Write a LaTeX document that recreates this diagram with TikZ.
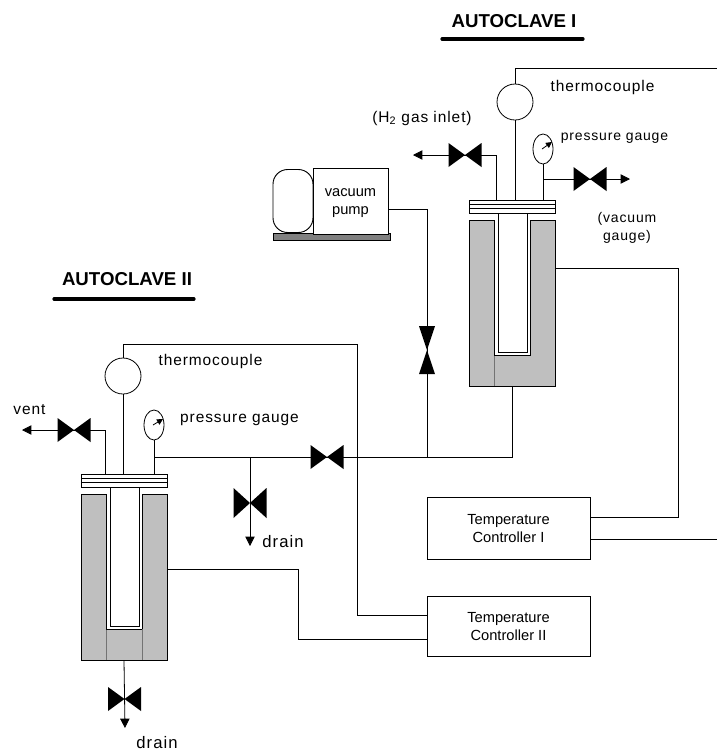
\documentclass[tikz,border=0pt]{standalone}
\usepackage{fontspec}
\setmainfont{Liberation Sans}
\newfontfamily\spaced[LetterSpace=6]{Liberation Sans}
\usetikzlibrary{shapes.geometric,arrows.meta,positioning}
\def\px{0.75pt}
\begin{document}
\begin{tikzpicture}[
      x=0.75pt, y=-0.75pt,
      pipe/.style={draw, line width=0.6pt},
      outlet/.style={pipe, -{Triangle[length=7pt,width=7pt]}},
      box/.style={draw, line width=0.7pt, fill=white, inner sep=0pt, align=center, font=\fontsize{11}{13.5}\selectfont, text height=22.5pt},
      lidbox/.style={draw, line width=0.6pt, fill=white, inner sep=0pt, minimum width=86*\px, minimum height=13*\px},
      jacket/.style={draw, line width=0.6pt, fill=black!25, inner sep=0pt, minimum width=86*\px, minimum height=166*\px},
      probe/.style={draw, circle, line width=0.6pt, inner sep=0pt, minimum size=36*\px},
      gauge/.style={draw, ellipse, line width=0.6pt, inner sep=0pt, minimum width=20*\px, minimum height=30*\px},
      lab/.style={inner sep=0pt, align=center, font=\spaced\fontsize{11.6}{13.5}\selectfont},
      smalllab/.style={lab, font=\spaced\fontsize{10.5}{13.5}\selectfont},
      title/.style={inner sep=0pt, font=\bfseries\fontsize{14}{16}\selectfont}
    ]
    \useasboundingbox (0,0) rectangle (717,751);

    % the two vessels
    \foreach \ax/\ay/\an in {469/200/one,81/474/two}{%
      \node[jacket] (jacket\an) at (\ax+43,\ay+103) {};
      \draw[line width=0.4pt, black!55] (\ax+25,\ay+155) -- (\ax+25,\ay+186);
      \draw[pipe, fill=white] (\ax+25,\ay+20) -- (\ax+25,\ay+155) -- (\ax+61,\ay+155) -- (\ax+61,\ay+20);
      \draw[pipe, fill=white] (\ax+29,\ay+13) rectangle (\ax+58,\ay+152);
      \node[lidbox] (lid\an) at (\ax+43,\ay+6.5) {};
      \draw[pipe] (\ax,\ay+4.5) -- (\ax+86,\ay+4.5);
      \draw[pipe] (\ax,\ay+8.5) -- (\ax+86,\ay+8.5);
    }
    \draw[line width=0.4pt, black!55] (142,629) -- (142,660);

    % titles
    \node[title] (titleone) at (514,21) {AUTOCLAVE I};
    \draw[line width=2.4pt, line cap=round] (442,39) -- (583,39);
    \node[title] (titletwo) at (127,279) {AUTOCLAVE II};
    \draw[line width=2.4pt, line cap=round] (54,299) -- (194,299);

    % instruments
    \node[probe] (thermoone) at (515,102) {};
    \node[probe] (thermotwo) at (123,376) {};
    \node[gauge] (gaugeone) at (543,149) {};
    \node[gauge] (gaugetwo) at (154,425) {};
    \draw[-{Triangle[length=4.5pt,width=4.5pt]}, line width=0.6pt] (542,149) -- (552,142);
    \draw[-{Triangle[length=4.5pt,width=4.5pt]}, line width=0.6pt] (153,425) -- (163,419);

    % pump and controllers
    \node[draw, fill=black!50, line width=0.5pt, inner sep=0pt, minimum width=117*\px, minimum height=7*\px] (pumpbase) at (331.5,236.5) {};
    \node[draw, rectangle, rounded corners=11pt, line width=0.7pt, inner sep=0pt, minimum width=40*\px, minimum height=63*\px] (pumptank) at (293,201) {};
    \node[box, minimum width=75*\px, minimum height=66*\px] (pump) at (350.5,201) {vacuum\\pump};
    \node[box, minimum width=163*\px, minimum height=62*\px] (ctrlone) at (508.5,528) {Temperature\\Controller I};
    \node[box, minimum width=163*\px, minimum height=60*\px] (ctrltwo) at (508.5,626) {Temperature\\Controller II};

    % free ends and junctions
    \coordinate (ventone) at (413,155);
    \coordinate (venttwo) at (22,430);
    \coordinate (vacone) at (630,179);
    \coordinate (drainone) at (250,546);
    \coordinate (draintwo) at (125,728);
    \coordinate (stemone) at (496,155);
    \coordinate (stemtwo) at (105,430);
    \coordinate (header) at (427,457);
    \coordinate (edgeone) at (717,68);
    \coordinate (edgetwo) at (717,539);

    % piping
    \draw[pipe] (thermoone.south) -- (thermoone.south |- lidone.north);
    \draw[pipe] (thermotwo.south) -- (thermotwo.south |- lidtwo.north);
    \draw[pipe] (gaugeone.south) -- (gaugeone.south |- lidone.north);
    \draw[pipe] (gaugetwo.south) -- (gaugetwo.south |- lidtwo.north);
    \draw[outlet] (stemone |- lidone.north) -- (stemone) -- (ventone);
    \draw[outlet] (stemtwo |- lidtwo.north) -- (stemtwo) -- (venttwo);
    \draw[outlet] (gaugeone.south |- vacone) -- (vacone);
    \draw[pipe] (pump.east |- 0,209) -| (header);
    \draw[pipe] (jacketone.south) |- (gaugetwo.south |- header);
    \draw[outlet] (drainone |- header) -- (drainone);
    \draw[outlet] (jackettwo.south) -- (draintwo);

    % thermocouple and heater wires
    \draw[pipe] (thermoone.north) |- (edgeone);
    \draw[pipe] (thermotwo.north) |- (357,344) |- (ctrltwo.west |- 0,615);
    \draw[pipe] (jacketone.east |- 0,268) -| (678,517) -- (ctrlone.east |- 0,517);
    \draw[pipe] (ctrlone.east |- edgetwo) -- (edgetwo);
    \draw[pipe] (jackettwo.east |- 0,569) -| (298,639) -- (ctrltwo.west |- 0,639);

    % valves
    \foreach \vx/\vy/\vw/\vh in {465/155/16.5/12,590/179/16.5/12,74/430/16.5/12,327/457/16.5/12,250/503/16.5/15,124.5/699/16.5/12}{%
      \fill (\vx-\vw,\vy-\vh) -- (\vx+\vw,\vy+\vh) -- (\vx+\vw,\vy-\vh) -- (\vx-\vw,\vy+\vh) -- cycle;
    }
    \fill (419,326) -- (435,326) -- (419,374) -- (435,374) -- cycle;

    % labels
    \node[lab] (labthermoone) at (602.5,87) {thermocouple};
    \node[lab] (labthermotwo) at (210.5,361) {thermocouple};
    \node[smalllab] (labgaugeone) at (614.5,138) {pressure gauge};
    \node[lab] (labgaugetwo) at (239.5,420) {pressure gauge};
    \node[lab] (labinlet) at (422,118) {(H\textsubscript{2} gas inlet)};
    \node[smalllab] (labvac) at (627,227.5) {(vacuum\\gauge)};
    \node[lab] (labvent) at (29.5,410) {vent};
    \node[lab, font=\spaced\fontsize{12.5}{14}\selectfont] (labdrainone) at (283,542) {drain};
    \node[lab, font=\spaced\fontsize{12.5}{14}\selectfont] (labdraintwo) at (157,743) {drain};
  \end{tikzpicture}
\end{document}
